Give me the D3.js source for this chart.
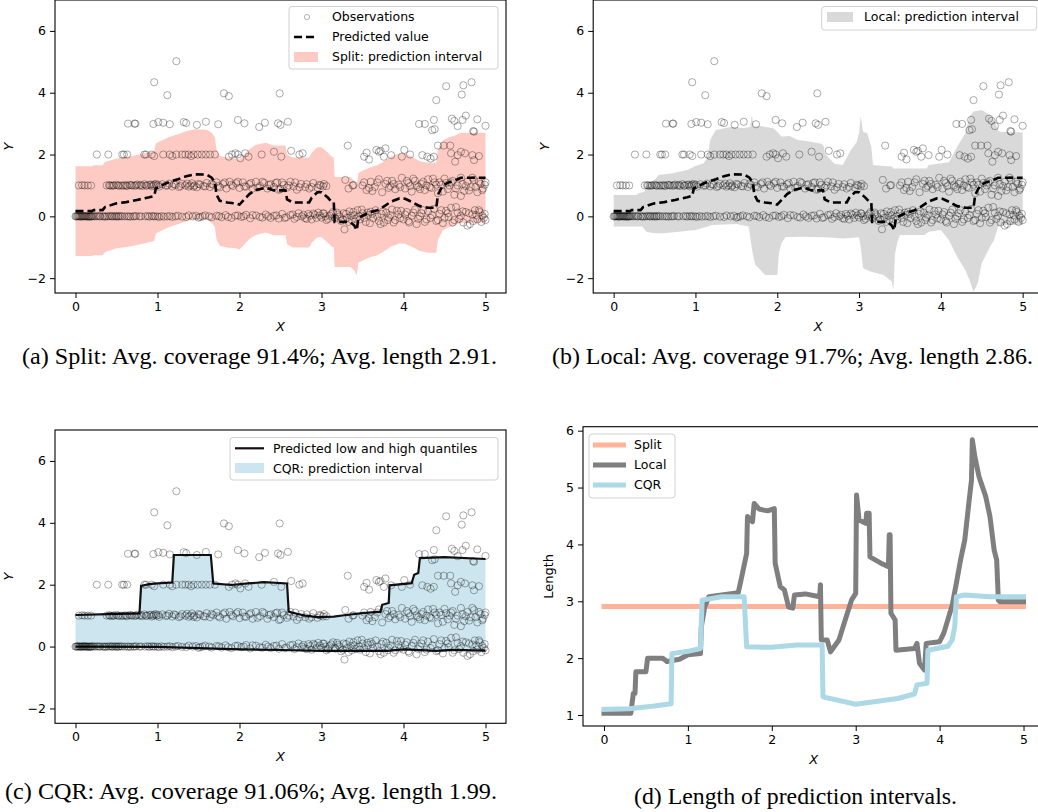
<!DOCTYPE html>
<html><head><meta charset="utf-8">
<script src="https://cdn.jsdelivr.net/npm/d3@7"></script>
<style>body{margin:0;background:#fff} svg{display:block} text{font-family:"DejaVu Sans",sans-serif} text.cap{font-family:"Liberation Serif","Times New Roman",serif}</style>
</head><body><svg id="c" width="1038" height="812"></svg>
<script>
// ---------------- data ----------------
const observations = [
// y ~ 0 row
[0.00,0.0],[0.02,0.0],[0.03,0.01],[0.05,0.0],[0.07,-0.01],[0.08,0.0],[0.1,0.0],[0.12,0.01],[0.14,0.0],[0.16,0.0],[0.18,-0.01],[0.2,0.0],[0.23,0.0],[0.27,0.01],[0.3,0.0],[0.33,0.0],[0.36,-0.01],[0.4,0.0],[0.42,0.01],[0.44,0.0],[0.47,0.0],[0.5,-0.01],[0.52,0.0],[0.55,0.01],[0.6,0.0],[0.63,0.0],[0.67,-0.01],[0.7,0.0],[0.74,0.01],[0.78,0.0],[0.85,0.0],[0.9,-0.01],[0.93,0.01],[0.97,0.0],[1.02,-0.02],[1.05,0.01],[1.12,0.0],[1.18,-0.02],[1.25,0.02],[1.3,-0.01],[1.38,0.03],[1.43,0.0],[1.5,-0.04],[1.52,-0.02],[1.58,0.03],[1.63,0.0],[1.72,0.02],[1.78,-0.03],[1.83,0.04],[1.9,-0.05],[1.95,0.02],[2.02,-0.02],[2.08,0.05],[2.13,-0.06],[2.2,0.03],[2.25,-0.02],[2.32,0.06],[2.38,-0.05],[2.42,0.02],[2.48,-0.07],[2.52,0.08],[2.57,-0.03],[2.62,0.04],[2.67,-0.08],[2.72,0.1],[2.76,0.0],[2.8,-0.06],[2.84,0.08],[2.88,-0.1],[2.92,0.05],[2.96,0.12],[3.0,-0.04],[3.03,0.09],[3.06,-0.12],[3.1,0.02],[3.14,0.14],[3.17,-0.07],[3.2,0.06],[3.24,-0.15],[3.27,0.1],[3.28,-0.42],[3.31,-0.05],[3.34,0.16],[3.37,-0.12],[3.4,0.04],[3.44,0.2],[3.47,-0.1],[3.5,0.1],[3.54,-0.18],[3.57,0.05],[3.6,0.15],[3.63,-0.06],[3.66,0.2],[3.7,-0.15],[3.73,0.08],[3.76,-0.2],[3.79,0.12],[3.82,-0.04],[3.86,0.22],[3.9,-0.12],[3.94,0.06],[3.97,0.18],[4.0,-0.1],[4.04,0.14],[4.07,-0.2],[4.1,0.02],[4.14,0.22],[4.18,-0.08],[4.22,0.1],[4.26,-0.18],[4.3,0.16],[4.33,-0.05],[4.37,0.24],[4.4,-0.15],[4.44,0.08],[4.48,-0.22],[4.52,0.18],[4.55,-0.02],[4.58,0.28],[4.62,-0.12],[4.66,0.12],[4.7,0.02],[4.73,-0.2],[4.76,0.14],[4.78,-0.3],[4.81,-0.25],[4.84,0.06],[4.87,0.2],[4.9,-0.1],[4.93,0.14],[4.96,0.02],[4.98,-0.05],[5.0,-0.12],
[0.01,0.0],[0.04,0.0],[0.06,0.0],[0.09,0.01],[0.11,0.0],[0.13,0.0],[0.15,-0.01],[0.17,0.0],[0.19,0.0],[0.21,0.01],[0.25,0.0],[0.29,0.0],[0.35,0.0],[0.38,0.0],[0.45,0.0],[0.49,0.01],[0.53,0.0],[0.57,0.0],[0.65,0.0],[0.72,0.0],[0.8,0.0],[0.88,0.01],[0.95,0.0],[1.0,0.0],[1.08,-0.01],[1.15,0.01],[1.22,0.0],[1.35,-0.02],[1.47,0.02],[1.55,0.0],[1.66,-0.03],[1.75,0.01],[1.86,-0.02],[1.98,0.03],[2.05,0.0],[2.16,0.04],[2.28,-0.04],[2.35,0.0],[2.45,0.03],[2.55,-0.05],[2.65,0.06],[2.7,-0.02],[2.78,0.05],[2.82,-0.08],[2.86,0.02],[2.9,0.09],[2.94,-0.05],[2.98,0.03],[3.02,0.1],[3.05,0.0],[3.08,-0.08],[3.12,0.07],[3.16,-0.03],[3.19,0.12],[3.22,0.0],[3.26,-0.1],[3.3,0.08],[3.33,-0.18],[3.36,0.02],[3.39,0.14],[3.42,-0.08],[3.46,0.0],[3.49,0.22],[3.52,-0.05],[3.56,0.12],[3.59,-0.22],[3.62,0.08],[3.68,0.0],[3.72,-0.25],[3.75,0.16],[3.81,-0.12],[3.84,0.04],[3.88,-0.2],[3.92,0.18],[3.96,-0.06],[4.02,0.06],[4.06,-0.15],[4.12,0.12],[4.16,-0.25],[4.2,0.0],[4.24,0.2],[4.28,-0.1],[4.35,0.04],[4.42,-0.12],[4.46,0.2],[4.5,-0.05],[4.54,0.1],[4.6,-0.2],[4.64,0.3],[4.68,-0.08],[4.72,0.16],[4.8,0.1],[4.85,-0.15],[4.89,0.04],[4.92,0.2],[4.95,-0.18],[4.99,0.08],
// y ~ 1 row
[0.04,1.0],[0.08,1.01],[0.11,1.0],[0.15,1.0],[0.19,1.0],[0.38,1.0],[0.41,1.01],[0.44,0.99],[0.47,1.0],[0.5,1.02],[0.53,0.99],[0.56,1.0],[0.6,1.01],[0.63,0.98],[0.66,1.02],[0.69,1.0],[0.72,0.99],[0.75,1.03],[0.78,1.0],[0.81,0.98],[0.84,1.04],[0.87,1.0],[0.9,1.02],[0.93,0.97],[0.96,1.03],[0.99,1.0],[1.02,0.96],[1.06,1.04],[1.1,0.99],[1.14,1.06],[1.18,0.97],[1.22,1.02],[1.26,0.95],[1.3,1.05],[1.34,1.0],[1.38,0.96],[1.42,1.07],[1.45,1.0],[1.48,0.94],[1.52,1.03],[1.56,0.98],[1.6,1.08],[1.64,0.95],[1.68,1.02],[1.72,1.1],[1.76,0.94],[1.8,1.05],[1.84,0.9],[1.88,1.12],[1.92,0.98],[1.96,1.07],[2.0,0.92],[2.04,1.1],[2.08,0.96],[2.12,1.04],[2.16,0.9],[2.2,1.12],[2.25,0.98],[2.3,1.08],[2.34,0.9],[2.38,1.04],[2.42,0.95],[2.46,1.1],[2.5,0.88],[2.54,1.02],[2.58,0.93],[2.62,1.12],[2.66,0.97],[2.7,0.86],[2.75,1.05],[2.8,0.95],[2.85,0.9],[2.9,1.08],[2.95,0.93],[2.99,1.0],[3.03,1.05],[3.06,0.98],[3.29,1.18],[3.33,0.9],[3.39,1.01],[3.5,1.0],[3.55,0.85],[3.6,1.12],[3.65,0.95],[3.7,1.2],[3.74,0.78],[3.78,1.05],[3.82,0.92],[3.86,1.15],[3.9,0.88],[3.94,1.02],[3.98,1.25],[4.02,0.9],[4.06,1.08],[4.1,0.8],[4.14,1.15],[4.18,0.95],[4.22,1.05],[4.26,0.85],[4.3,1.2],[4.34,0.92],[4.38,1.1],[4.42,0.75],[4.46,1.02],[4.5,1.22],[4.54,0.88],[4.58,1.1],[4.62,0.7],[4.66,1.0],[4.7,1.25],[4.74,0.82],[4.78,1.12],[4.82,0.95],[4.86,1.18],[4.9,0.78],[4.94,1.05],[4.97,0.9],[5.0,1.1],[4.7,0.66],
[0.42,1.0],[0.46,1.0],[0.52,1.0],[0.58,0.99],[0.62,1.0],[0.68,1.01],[0.74,1.0],[0.8,1.02],[0.86,0.99],[0.92,1.03],[0.95,1.0],[0.98,1.05],[1.01,1.02],[1.12,1.0],[1.2,1.04],[1.28,0.98],[1.36,1.06],[1.4,1.0],[1.44,0.96],[1.5,1.05],[1.58,0.97],[1.66,1.05],[1.74,0.98],[1.82,1.1],[1.9,1.02],[1.98,1.12],[2.06,0.97],[2.14,1.08],[2.22,0.93],[2.28,1.12],[2.36,1.02],[2.44,1.08],[2.48,0.86],[2.52,1.1],[2.6,1.0],[2.68,1.1],[2.73,0.94],[2.82,1.04],[2.88,0.95],[2.97,1.02],[3.02,0.97],[3.38,1.0],[3.52,1.1],[3.58,0.92],[3.62,0.82],[3.68,1.1],[3.8,1.15],[3.84,0.98],[3.88,1.05],[3.96,0.95],[4.04,1.15],[4.08,0.98],[4.12,1.22],[4.16,1.0],[4.2,0.88],[4.24,1.12],[4.28,1.0],[4.32,0.95],[4.36,1.22],[4.4,1.02],[4.44,1.1],[4.48,0.8],[4.52,1.08],[4.56,1.0],[4.6,1.15],[4.64,0.9],[4.72,1.05],[4.76,0.98],[4.8,0.84],[4.84,1.25],[4.88,0.95],[4.92,1.12],[4.96,0.85],[4.99,1.02],
// y ~ 2 row
[0.26,2.0],[0.40,2.0],[0.57,2.0],[0.59,2.0],[0.63,2.0],[0.84,2.0],[0.86,2.0],[0.93,2.0],[0.96,1.95],[1.07,2.0],[1.15,2.0],[1.18,1.95],[1.23,2.0],[1.3,2.0],[1.34,2.0],[1.38,2.0],[1.41,1.95],[1.44,2.0],[1.49,2.0],[1.54,2.0],[1.59,2.0],[1.64,2.0],[1.7,2.0],[1.87,1.93],[1.91,2.0],[1.95,2.04],[1.98,2.0],[2.01,1.88],[2.07,2.04],[2.11,1.93],[2.27,2.0],[2.42,2.09],[2.51,1.93],[2.63,2.12],[2.73,2.0],[2.77,2.04],[3.32,2.29],[3.52,1.93],[3.55,2.06],[3.58,1.84],[3.67,2.15],[3.70,2.09],[3.72,2.12],[3.78,2.2],[3.76,1.93],[3.85,1.98],[3.98,1.93],[4.01,2.15],[4.08,2.0],[4.23,1.98],[4.29,1.93],[4.37,1.93],[4.33,1.87],[4.42,2.29],[4.49,2.29],[4.57,2.29],[4.58,2.04],[4.63,1.77],[4.66,1.98],[4.70,2.09],[4.75,2.04],[4.84,1.98],[4.86,1.82],[4.92,1.95],
// y ~ 3 row
[0.64,3.0],[0.72,3.0],[0.73,3.0],[0.95,2.99],[1.01,3.05],[1.07,3.03],[1.15,2.98],[1.32,3.05],[1.35,3.02],[1.48,2.96],[1.59,3.06],[1.74,2.98],[1.98,3.12],[2.06,3.01],[2.24,2.89],[2.31,3.03],[2.47,3.01],[2.5,2.96],[2.59,3.06],[4.19,2.99],[4.26,2.99],[4.37,3.12],[4.35,2.79],[4.38,2.82],[4.59,3.16],[4.62,3.09],[4.66,2.92],[4.76,3.26],[4.72,3.12],[4.9,3.14],[4.85,2.76],[4.86,2.74],[5.0,2.93],
// higher values
[0.96,4.34],[1.12,3.92],[1.23,5.02],[1.81,3.98],[1.87,3.89],[2.49,3.98],[4.52,4.21],[4.73,4.24],[4.83,4.34],[4.71,3.94],[4.40,3.76]
];

const predicted = [[0,0.17],[0.2,0.17],[0.22,0.2],[0.33,0.2],[0.36,0.3],[0.5,0.42],[0.62,0.46],[0.75,0.53],[0.9,0.62],[0.96,0.66],[0.98,0.9],[1.05,1.0],[1.15,1.12],[1.25,1.2],[1.35,1.3],[1.45,1.36],[1.6,1.35],[1.66,1.25],[1.7,1.1],[1.72,0.7],[1.76,0.5],[1.85,0.45],[1.95,0.42],[2.0,0.38],[2.06,0.55],[2.12,0.72],[2.2,0.85],[2.32,0.93],[2.42,0.84],[2.56,0.84],[2.58,0.55],[2.65,0.45],[2.85,0.45],[2.88,0.6],[2.95,0.78],[3.0,0.78],[3.08,0.6],[3.12,0.48],[3.15,0.45],[3.16,-0.18],[3.35,-0.18],[3.4,-0.3],[3.43,-0.45],[3.45,-0.05],[3.5,0.02],[3.58,0.12],[3.68,0.2],[3.75,0.3],[3.85,0.48],[3.95,0.58],[4.02,0.57],[4.1,0.47],[4.2,0.33],[4.3,0.28],[4.4,0.28],[4.42,0.7],[4.48,1.0],[4.55,1.1],[4.62,1.15],[4.7,1.25],[5.0,1.25]];

const splitLength = 2.91;

const localUpper = [[0,0.69],[0.28,0.69],[0.3,0.74],[0.38,0.8],[0.4,1.01],[0.5,1.18],[0.55,1.34],[0.7,1.39],[0.9,1.5],[1.0,1.63],[1.1,1.72],[1.15,1.93],[1.18,2.47],[1.25,2.79],[1.45,2.9],[1.6,2.85],[1.67,2.9],[1.69,3.28],[1.71,2.9],[1.8,2.92],[1.95,2.85],[2.0,2.74],[2.05,2.58],[2.15,2.6],[2.25,2.47],[2.4,2.42],[2.55,2.34],[2.57,2.25],[2.58,2.04],[2.7,1.7],[2.8,1.66],[2.9,2.15],[2.97,2.4],[3.0,2.69],[3.02,3.23],[3.05,2.74],[3.1,2.69],[3.15,2.25],[3.17,1.66],[3.3,1.63],[3.4,1.61],[3.42,1.55],[3.83,1.55],[3.85,1.66],[4.1,1.75],[4.2,2.25],[4.3,2.69],[4.35,3.23],[4.4,3.39],[4.5,3.44],[4.6,3.28],[4.65,3.12],[4.7,2.79],[4.72,2.74],[5.0,2.71]];
const localLower = [[0,-0.33],[0.35,-0.33],[0.4,-0.5],[0.5,-0.55],[0.6,-0.55],[0.8,-0.5],[1.0,-0.44],[1.15,-0.33],[1.2,-0.28],[1.5,-0.25],[1.65,-0.33],[1.7,-1.2],[1.73,-1.57],[1.8,-1.74],[1.85,-1.9],[2.0,-1.9],[2.02,-1.2],[2.05,-0.87],[2.1,-0.68],[2.3,-0.66],[2.6,-0.68],[2.8,-0.72],[3.0,-0.68],[3.02,-0.98],[3.05,-1.68],[3.15,-1.79],[3.3,-1.9],[3.4,-2.11],[3.42,-2.38],[3.44,-1.2],[3.47,-0.82],[3.5,-0.6],[3.8,-0.6],[3.85,-0.5],[4.0,-0.44],[4.1,-0.77],[4.2,-1.31],[4.3,-1.74],[4.35,-2.06],[4.4,-2.44],[4.45,-2.17],[4.5,-1.52],[4.55,-1.25],[4.6,-0.98],[4.65,-0.77],[4.7,-0.33],[4.75,-0.28],[5.0,-0.28]];

const cqrHigh = [[0,1.02],[0.4,1.05],[0.78,1.07],[0.8,1.96],[0.9,2.02],[1.0,2.04],[1.18,2.07],[1.2,2.96],[1.65,2.96],[1.68,2.04],[1.9,1.99],[2.1,2.04],[2.3,2.08],[2.58,2.04],[2.6,1.13],[2.7,1.06],[2.8,1.0],[2.95,0.95],[3.15,0.97],[3.3,1.02],[3.5,1.08],[3.72,1.13],[3.74,1.35],[3.82,1.41],[3.83,1.98],[4.1,2.05],[4.13,2.32],[4.18,2.38],[4.2,2.86],[4.5,2.89],[5.0,2.83]];
const cqrLow = [[0,0.0],[1.0,-0.01],[1.5,-0.05],[2.0,-0.09],[2.5,-0.11],[3.0,-0.14],[3.5,-0.14],[3.8,-0.14],[4.0,-0.09],[4.4,-0.14],[4.6,-0.11],[5.0,-0.13]];

const localLength = [[0,1.03],[0.32,1.03],[0.33,1.15],[0.35,1.38],[0.37,1.38],[0.38,1.76],[0.5,1.76],[0.52,2.0],[0.7,2.0],[0.75,1.94],[0.9,1.98],[1.0,2.06],[1.15,2.08],[1.16,2.55],[1.2,2.9],[1.25,3.08],[1.6,3.15],[1.65,3.49],[1.7,3.84],[1.71,4.49],[1.77,4.4],[1.79,4.72],[1.85,4.62],[1.95,4.59],[2.03,4.63],[2.04,3.67],[2.1,3.26],[2.15,3.2],[2.2,2.9],[2.25,2.88],[2.27,3.11],[2.4,3.13],[2.57,3.08],[2.58,3.29],[2.59,2.32],[2.66,2.32],[2.7,2.11],[2.8,2.32],[2.9,2.79],[2.95,3.02],[3.0,3.14],[3.01,4.87],[3.04,4.43],[3.12,4.37],[3.13,4.55],[3.16,4.55],[3.17,3.78],[3.3,3.67],[3.39,3.61],[3.4,4.17],[3.41,4.17],[3.42,2.79],[3.47,2.67],[3.48,2.14],[3.7,2.17],[3.73,2.26],[3.76,1.91],[3.82,1.79],[3.84,2.26],[4.0,2.29],[4.05,2.44],[4.15,2.93],[4.2,3.32],[4.25,3.73],[4.3,4.08],[4.35,4.75],[4.38,5.13],[4.39,5.84],[4.42,5.54],[4.47,5.19],[4.55,4.84],[4.6,4.49],[4.65,3.9],[4.68,3.73],[4.7,3.02],[4.72,2.99],[5.0,2.99]];
const cqrLength = [[0,1.1],[0.3,1.11],[0.6,1.16],[0.8,1.2],[0.81,2.08],[1.0,2.12],[1.15,2.17],[1.17,3.02],[1.4,3.08],[1.67,3.08],[1.7,2.2],[2.0,2.19],[2.3,2.23],[2.6,2.23],[2.61,1.32],[3.0,1.19],[3.5,1.29],[3.7,1.37],[3.73,1.53],[3.85,1.56],[3.86,2.14],[4.1,2.21],[4.15,2.32],[4.18,2.55],[4.2,3.08],[4.3,3.11],[4.6,3.08],[5.0,3.08]];

const xTicks = [0,1,2,3,4,5];
const yTicksObs = [-2,0,2,4,6];
const yTicksLen = [1,2,3,4,5,6];
const captions = [
  {t:"(a) Split: Avg. coverage 91.4%; Avg. length 2.91.", x:22, y:364, w:475},
  {t:"(b) Local: Avg. coverage 91.7%; Avg. length 2.86.", x:552, y:364, w:481},
  {t:"(c) CQR: Avg. coverage 91.06%; Avg. length 1.99.", x:5, y:799, w:492},
  {t:"(d) Length of prediction intervals.", x:634, y:804, w:323}
];

// ---------------- drawing ----------------
const svg = d3.select("#c");
const FS = 12.5;
const C = {split:"#fdcbc3", local:"#d9d9d9", cqr:"#cde5ee",
           splitLine:"#fdb49a", localLine:"#7f7f7f", cqrLine:"#add8e6"};

function makePanel(id, x0, x1, yBottom, yTop, xDom, yDom, yTicks, yLabel, labelItalic, yLabelX){
  const x = d3.scaleLinear().domain(xDom).range([x0,x1]);
  const y = d3.scaleLinear().domain(yDom).range([yBottom,yTop]);
  const g = svg.append("g");
  svg.append("clipPath").attr("id","clip"+id).append("rect")
    .attr("x",x0).attr("y",yTop).attr("width",x1-x0).attr("height",yBottom-yTop);
  const plot = g.append("g").attr("clip-path",`url(#clip${id})`);
  const ax = g.append("g").attr("transform",`translate(0,${yBottom})`)
    .call(d3.axisBottom(x).tickValues(xTicks).tickFormat(d3.format("d")).tickSize(5).tickPadding(4).tickSizeOuter(0));
  const ay = g.append("g").attr("transform",`translate(${x0},0)`)
    .call(d3.axisLeft(y).tickValues(yTicks).tickFormat(d=> d<0? "\u2212"+Math.abs(d) : d).tickSize(5).tickPadding(4).tickSizeOuter(0));
  [ax,ay].forEach(a=>{
    a.select(".domain").remove();
    a.selectAll("text").attr("font-size",FS).attr("font-family","DejaVu Sans").attr("fill","#000");
    a.selectAll("line").attr("stroke","#000").attr("stroke-width",1);
  });
  g.append("rect").attr("x",x0).attr("y",yTop).attr("width",x1-x0).attr("height",yBottom-yTop)
    .attr("fill","none").attr("stroke","#000").attr("stroke-width",1.1);
  g.append("text").attr("x",x(2.5)).attr("y",yBottom+38).attr("text-anchor","middle")
    .attr("font-size",13).attr("font-style","italic").text("X");
  g.append("text").attr("transform",`translate(${yLabelX},${(yTop+yBottom)/2}) rotate(-90)`)
    .attr("text-anchor","middle").attr("font-size",13).attr("font-style",labelItalic?"italic":"normal").text(yLabel);
  return {x,y,g,plot};
}

function bandPath(p, upper, lower){
  const pts = upper.map(d=>[p.x(d[0]),p.y(d[1])]).concat(lower.slice().reverse().map(d=>[p.x(d[0]),p.y(d[1])]));
  return d3.line()(pts)+"Z";
}
function drawObs(p){
  p.plot.append("g").selectAll("circle").data(observations).join("circle")
    .attr("cx",d=>p.x(d[0])).attr("cy",d=>p.y(d[1])).attr("r",3.6)
    .attr("fill","none").attr("stroke","rgba(0,0,0,0.33)").attr("stroke-width",1);
}
function drawPred(p){
  p.plot.append("path").attr("d",d3.line().x(d=>p.x(d[0])).y(d=>p.y(d[1]))(predicted))
    .attr("fill","none").attr("stroke","#000").attr("stroke-width",2.6).attr("stroke-dasharray","8,4");
}
function legendBox(x,y,w,h){
  svg.append("rect").attr("x",x).attr("y",y).attr("width",w).attr("height",h).attr("rx",3)
    .attr("fill","rgba(255,255,255,0.85)").attr("stroke","#d0d0d0").attr("stroke-width",1);
}
function legendText(x,y,t){
  svg.append("text").attr("x",x).attr("y",y).attr("dy","0.35em").attr("font-size",FS).text(t);
}

// (a) Split
const pa = makePanel("a",55,506,293,0,[-0.25,5.25],[-2.48,7.0],yTicksObs,"Y",true,13);
const splitUpper = predicted.map(d=>[d[0], d[1]+splitLength/2]);
const splitLower = predicted.map(d=>[d[0], d[1]-splitLength/2]);
pa.plot.append("path").attr("d",bandPath(pa,splitUpper,splitLower)).attr("fill",C.split);
drawObs(pa); drawPred(pa);
legendBox(289,6.5,209,62.5);
svg.append("circle").attr("cx",307).attr("cy",17).attr("r",2.6).attr("fill","none").attr("stroke","rgba(0,0,0,0.3)");
svg.append("line").attr("x1",294).attr("x2",318).attr("y1",37).attr("y2",37).attr("stroke","#000").attr("stroke-width",2.6).attr("stroke-dasharray","8,4");
svg.append("rect").attr("x",294).attr("y",52).attr("width",24).attr("height",10).attr("fill",C.split);
legendText(332,17,"Observations"); legendText(332,37,"Predicted value"); legendText(332,57,"Split: prediction interval");

// (b) Local
const pb = makePanel("b",593.2,1043.1,293,0,[-0.25,5.25],[-2.48,7.0],yTicksObs,"Y",true,549);
pb.plot.append("path").attr("d",bandPath(pb,localUpper,localLower)).attr("fill",C.local);
drawObs(pb); drawPred(pb);
legendBox(821.7,6.5,215,23.5);
svg.append("rect").attr("x",827).attr("y",12).attr("width",26).attr("height",10).attr("fill",C.local);
legendText(864,17,"Local: prediction interval");

// (c) CQR
const pc = makePanel("c",55,506,723.3,430,[-0.25,5.25],[-2.48,7.0],yTicksObs,"Y",true,13);
pc.plot.append("path").attr("d",bandPath(pc,cqrHigh,cqrLow)).attr("fill",C.cqr);
[cqrHigh,cqrLow].forEach(s=>pc.plot.append("path").attr("d",d3.line().x(d=>pc.x(d[0])).y(d=>pc.y(d[1]))(s))
   .attr("fill","none").attr("stroke","#111").attr("stroke-width",2.2));
drawObs(pc);
legendBox(230,437.5,268,42.5);
svg.append("line").attr("x1",235).attr("x2",264).attr("y1",448.3).attr("y2",448.3).attr("stroke","#111").attr("stroke-width",2.2);
svg.append("rect").attr("x",235).attr("y",463).attr("width",29).attr("height",10).attr("fill",C.cqr);
legendText(273,448.3,"Predicted low and high quantiles"); legendText(273,468.3,"CQR: prediction interval");

// (d) lengths
const pd = makePanel("d",583,1044.5,726,426.7,[-0.25,5.25],[0.807,6.07],yTicksLen,"Length",false,553);
const lineD = d3.line().x(d=>pd.x(d[0])).y(d=>pd.y(d[1]));
pd.g.append("path").attr("d",lineD([[0,splitLength],[5,splitLength]])).attr("fill","none").attr("stroke",C.splitLine).attr("stroke-width",5).attr("stroke-linecap","square");
pd.g.append("path").attr("d",lineD(localLength)).attr("fill","none").attr("stroke",C.localLine).attr("stroke-width",5).attr("stroke-linecap","square").attr("stroke-linejoin","round");
pd.g.append("path").attr("d",lineD(cqrLength)).attr("fill","none").attr("stroke",C.cqrLine).attr("stroke-width",5).attr("stroke-linecap","square").attr("stroke-linejoin","round");
legendBox(589,434,86,64);
[["Split",C.splitLine,445],["Local",C.localLine,465],["CQR",C.cqrLine,485]].forEach(([t,c,yy])=>{
  svg.append("line").attr("x1",593).attr("x2",626).attr("y1",yy).attr("y2",yy).attr("stroke",c).attr("stroke-width",5);
  legendText(634,yy,t);
});

// captions
captions.forEach(c=>{
  svg.append("text").attr("class","cap").attr("x",c.x).attr("y",c.y)
    .attr("font-size",23).attr("textLength",c.w).attr("lengthAdjust","spacingAndGlyphs").text(c.t);
});
</script></body></html>
